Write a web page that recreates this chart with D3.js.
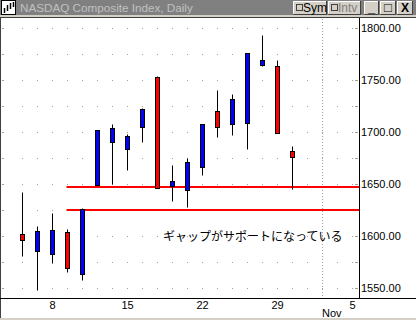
<!DOCTYPE html>
<head>
  <meta charset="utf-8">
  <script src="https://d3js.org/d3.v7.min.js"></script>
  <style>
    body {
      margin: 0;
      background: #fff;
      font-family: "Liberation Sans", Arial, sans-serif;
    }
    svg { display: block; }
    .note { font-family: "Noto Sans CJK JP", sans-serif; }
  </style>
</head>

<body>
  <svg width="416" height="320"></svg>

  <script>
    // trading days shown on the axis (Oct 4 - Nov 5)
    var axisDays = ['10/4', '10/5', '10/8', '10/9', '10/10', '10/11', '10/12',
      '10/15', '10/16', '10/17', '10/18', '10/19', '10/22', '10/23', '10/24',
      '10/25', '10/26', '10/29', '10/30', '10/31', '11/1', '11/2', '11/5'];

    // candles
    var days = ['10/4', '10/5', '10/8', '10/9', '10/10', '10/11', '10/12',
      '10/15', '10/16', '10/17', '10/18', '10/19', '10/22', '10/23', '10/24',
      '10/25', '10/26', '10/29', '10/30'];
    var opens  = [1602.2, 1585.2, 1582.3, 1604.1, 1563.5, 1648.7, 1690.0, 1683.3, 1704.4, 1752.9,
                  1647.7, 1643.8, 1666.3, 1720.5, 1707.7, 1708.3, 1764.0, 1763.7, 1682.0];
    var highs  = [1641.9, 1609.2, 1621.7, 1607.0, 1626.9, 1701.9, 1708.0, 1698.4, 1723.1, 1754.1,
                  1668.6, 1675.0, 1707.7, 1740.0, 1736.8, 1776.0, 1793.6, 1768.8, 1686.8];
    var lows   = [1580.4, 1547.7, 1573.7, 1565.4, 1557.3, 1648.7, 1650.3, 1663.1, 1690.0, 1645.8,
                  1633.9, 1627.5, 1658.9, 1694.8, 1697.4, 1683.7, 1763.1, 1698.7, 1645.5];
    var closes = [1596.4, 1605.1, 1606.1, 1568.8, 1626.2, 1701.9, 1703.8, 1696.2, 1722.1, 1645.8,
                  1653.2, 1671.2, 1707.7, 1704.8, 1731.7, 1776.0, 1769.2, 1698.7, 1676.0];

    var tickDays = ['10/8', '10/15', '10/22', '10/29', '11/5'];
    var tickLabels = ['8', '15', '22', '29', '5'];
    var monthStart = '11/1';
    var monthLabel = 'Nov';
    var priceTicks = [1550, 1600, 1650, 1700, 1750, 1800];
    var gridPrices = [1550, 1575, 1600, 1625, 1650, 1675, 1700, 1725, 1750, 1775, 1800];

    // gap support lines
    var gapLevels = [1647.7, 1625.3];
    var gapStart = '10/9';
    var note = 'ギャップがサポートになっている';
    var title = 'NASDAQ Composite Index, Daily';

    var svg = d3.select('svg');
    var plotRight = 359.5, plotTop = 18, axisY = 298.5;

    var x = d3.scalePoint().domain(axisDays).range([22.5, 352.5]);
    var y = d3.scaleLinear().domain([1550, 1800]).range([288.5, 28.5]);
    var py = function(v) { return Math.round(y(v) - 0.5) + 0.5; };

    // window frame
    svg.append('rect').attr('width', 416).attr('height', 320).attr('fill', '#fff');
    svg.append('rect').attr('width', 416).attr('height', 15).attr('fill', '#808080');
    svg.append('rect').attr('y', 15).attr('width', 416).attr('height', 2).attr('fill', '#d4d0c8');
    svg.append('rect').attr('y', 17).attr('width', 416).attr('height', 1).attr('fill', '#404040');
    svg.append('rect').attr('y', 318).attr('width', 416).attr('height', 2).attr('fill', '#d4d0c8');
    svg.append('rect').attr('x', 0).attr('y', 17).attr('width', 1).attr('height', 301).attr('fill', '#404040');

    // title icon
    var icon = svg.append('g');
    icon.append('rect').attr('x', 1.5).attr('y', 0.5).attr('width', 14).attr('height', 14)
      .attr('fill', '#fff').attr('stroke', '#000');
    [[4, 8, 13], [7, 5, 11], [10, 3, 9], [13, 2, 7]].forEach(function(b) {
      icon.append('line').attr('x1', b[0] + 0.5).attr('x2', b[0] + 0.5)
        .attr('y1', b[1]).attr('y2', b[2]).attr('stroke', '#000').attr('stroke-width', 1.5);
    });

    svg.append('text').attr('x', 20).attr('y', 12)
      .attr('font-size', 11.7).attr('fill', '#c0c0c0').text(title);

    // title bar buttons
    var buttons = [
      {x: 293, w: 34, label: 'Sym', box: true, color: '#000'},
      {x: 328, w: 33, label: 'Intv', box: true, color: '#808080'},
      {x: 364, w: 15, label: '_', color: '#000'},
      {x: 380, w: 16, label: '□', color: '#000'},
      {x: 397, w: 16, label: 'X', color: '#000'}
    ];
    buttons.forEach(function(b) {
      var g = svg.append('g');
      g.append('rect').attr('x', b.x).attr('y', 1).attr('width', b.w).attr('height', 13).attr('fill', '#d4d0c8');
      g.append('path').attr('d', 'M' + (b.x + 0.5) + ' 13.5V1.5H' + (b.x + b.w - 0.5))
        .attr('stroke', '#fff').attr('fill', 'none');
      g.append('path').attr('d', 'M' + (b.x + 0.5) + ' 14.5H' + (b.x + b.w - 0.5) + 'V1')
        .attr('stroke', '#404040').attr('fill', 'none');
      if (b.box) {
        g.append('rect').attr('x', b.x + 3.5).attr('y', 4.5).attr('width', 6).attr('height', 6)
          .attr('fill', '#d4d0c8').attr('stroke', '#404040');
        g.append('text').attr('x', b.x + 10).attr('y', 12).attr('font-size', 12)
          .attr('fill', b.color).text(b.label);
      } else {
        g.append('text').attr('x', b.x + b.w / 2).attr('y', 12).attr('text-anchor', 'middle')
          .attr('font-size', b.label === 'X' ? 12 : 13).attr('font-weight', 'bold')
          .attr('fill', b.color).text(b.label);
      }
    });

    // dotted grid
    var grid = svg.append('g');
    gridPrices.forEach(function(p) {
      grid.selectAll(null).data(axisDays).enter().append('rect')
        .attr('x', function(d) { return x(d) - 0.5; })
        .attr('y', py(p) - 0.5)
        .attr('width', 1).attr('height', 1)
        .attr('fill', '#a0a0a0');
      grid.append('rect').attr('x', 2).attr('y', py(p) - 0.5).attr('width', 2).attr('height', 1).attr('fill', '#a0a0a0');
      grid.append('rect').attr('x', 355).attr('y', py(p) - 0.5).attr('width', 3).attr('height', 1).attr('fill', '#a0a0a0');
    });
    grid.append('line')
      .attr('x1', x(monthStart)).attr('x2', x(monthStart))
      .attr('y1', plotTop + 1).attr('y2', axisY)
      .attr('stroke', '#a0a0a0').attr('stroke-dasharray', '1,2');

    // gap support lines
    svg.selectAll('line.gap')
      .data(gapLevels).enter().append('line')
      .attr('class', 'gap')
      .attr('x1', x(gapStart) - 1).attr('x2', plotRight)
      .attr('y1', function(d) { return Math.round(y(d)); })
      .attr('y2', function(d) { return Math.round(y(d)); })
      .attr('stroke', '#ff0000').attr('stroke-width', 2);

    // candles
    var candles = svg.selectAll('g.candle')
      .data(days).enter().append('g')
      .attr('class', 'candle');

    candles.append('line')
      .attr('x1', function(d) { return x(d); })
      .attr('x2', function(d) { return x(d); })
      .attr('y1', function(d, i) { return py(highs[i]); })
      .attr('y2', function(d, i) { return py(lows[i]); })
      .attr('stroke', '#000');

    candles.append('rect')
      .attr('x', function(d) { return x(d) - 2; })
      .attr('y', function(d, i) { return py(Math.max(opens[i], closes[i])); })
      .attr('width', 4)
      .attr('height', function(d, i) {
        return Math.max(2, py(Math.min(opens[i], closes[i])) - py(Math.max(opens[i], closes[i])));
      })
      .attr('fill', function(d, i) { return closes[i] >= opens[i] ? '#0000ff' : '#ff0000'; })
      .attr('stroke', '#000');

    // annotation
    svg.append('text').attr('class', 'note')
      .attr('x', 163).attr('y', 241)
      .attr('font-size', 12).attr('fill', '#000')
      .text(note);

    // axes
    svg.append('line').attr('x1', 0).attr('x2', 416).attr('y1', axisY).attr('y2', axisY)
      .attr('stroke', '#000');
    svg.append('line').attr('x1', plotRight).attr('x2', plotRight).attr('y1', plotTop).attr('y2', axisY)
      .attr('stroke', '#000');

    svg.selectAll('text.ytick')
      .data(priceTicks).enter().append('text')
      .attr('class', 'ytick')
      .attr('x', plotRight + 1.5)
      .attr('y', function(d) { return y(d) + 3; })
      .attr('font-size', 11)
      .attr('fill', '#000')
      .text(function(d) { return d3.format('.2f')(d); });

    svg.selectAll('text.xtick')
      .data(tickDays).enter().append('text')
      .attr('class', 'xtick')
      .attr('x', function(d) { return x(d); })
      .attr('y', 308.5)
      .attr('text-anchor', 'middle')
      .attr('font-size', 11)
      .attr('fill', '#000')
      .text(function(d, i) { return tickLabels[i]; });

    svg.append('text')
      .attr('x', x(monthStart) - 0.5).attr('y', 317)
      .attr('font-size', 11).attr('fill', '#000')
      .text(monthLabel);
  </script>
</body>
